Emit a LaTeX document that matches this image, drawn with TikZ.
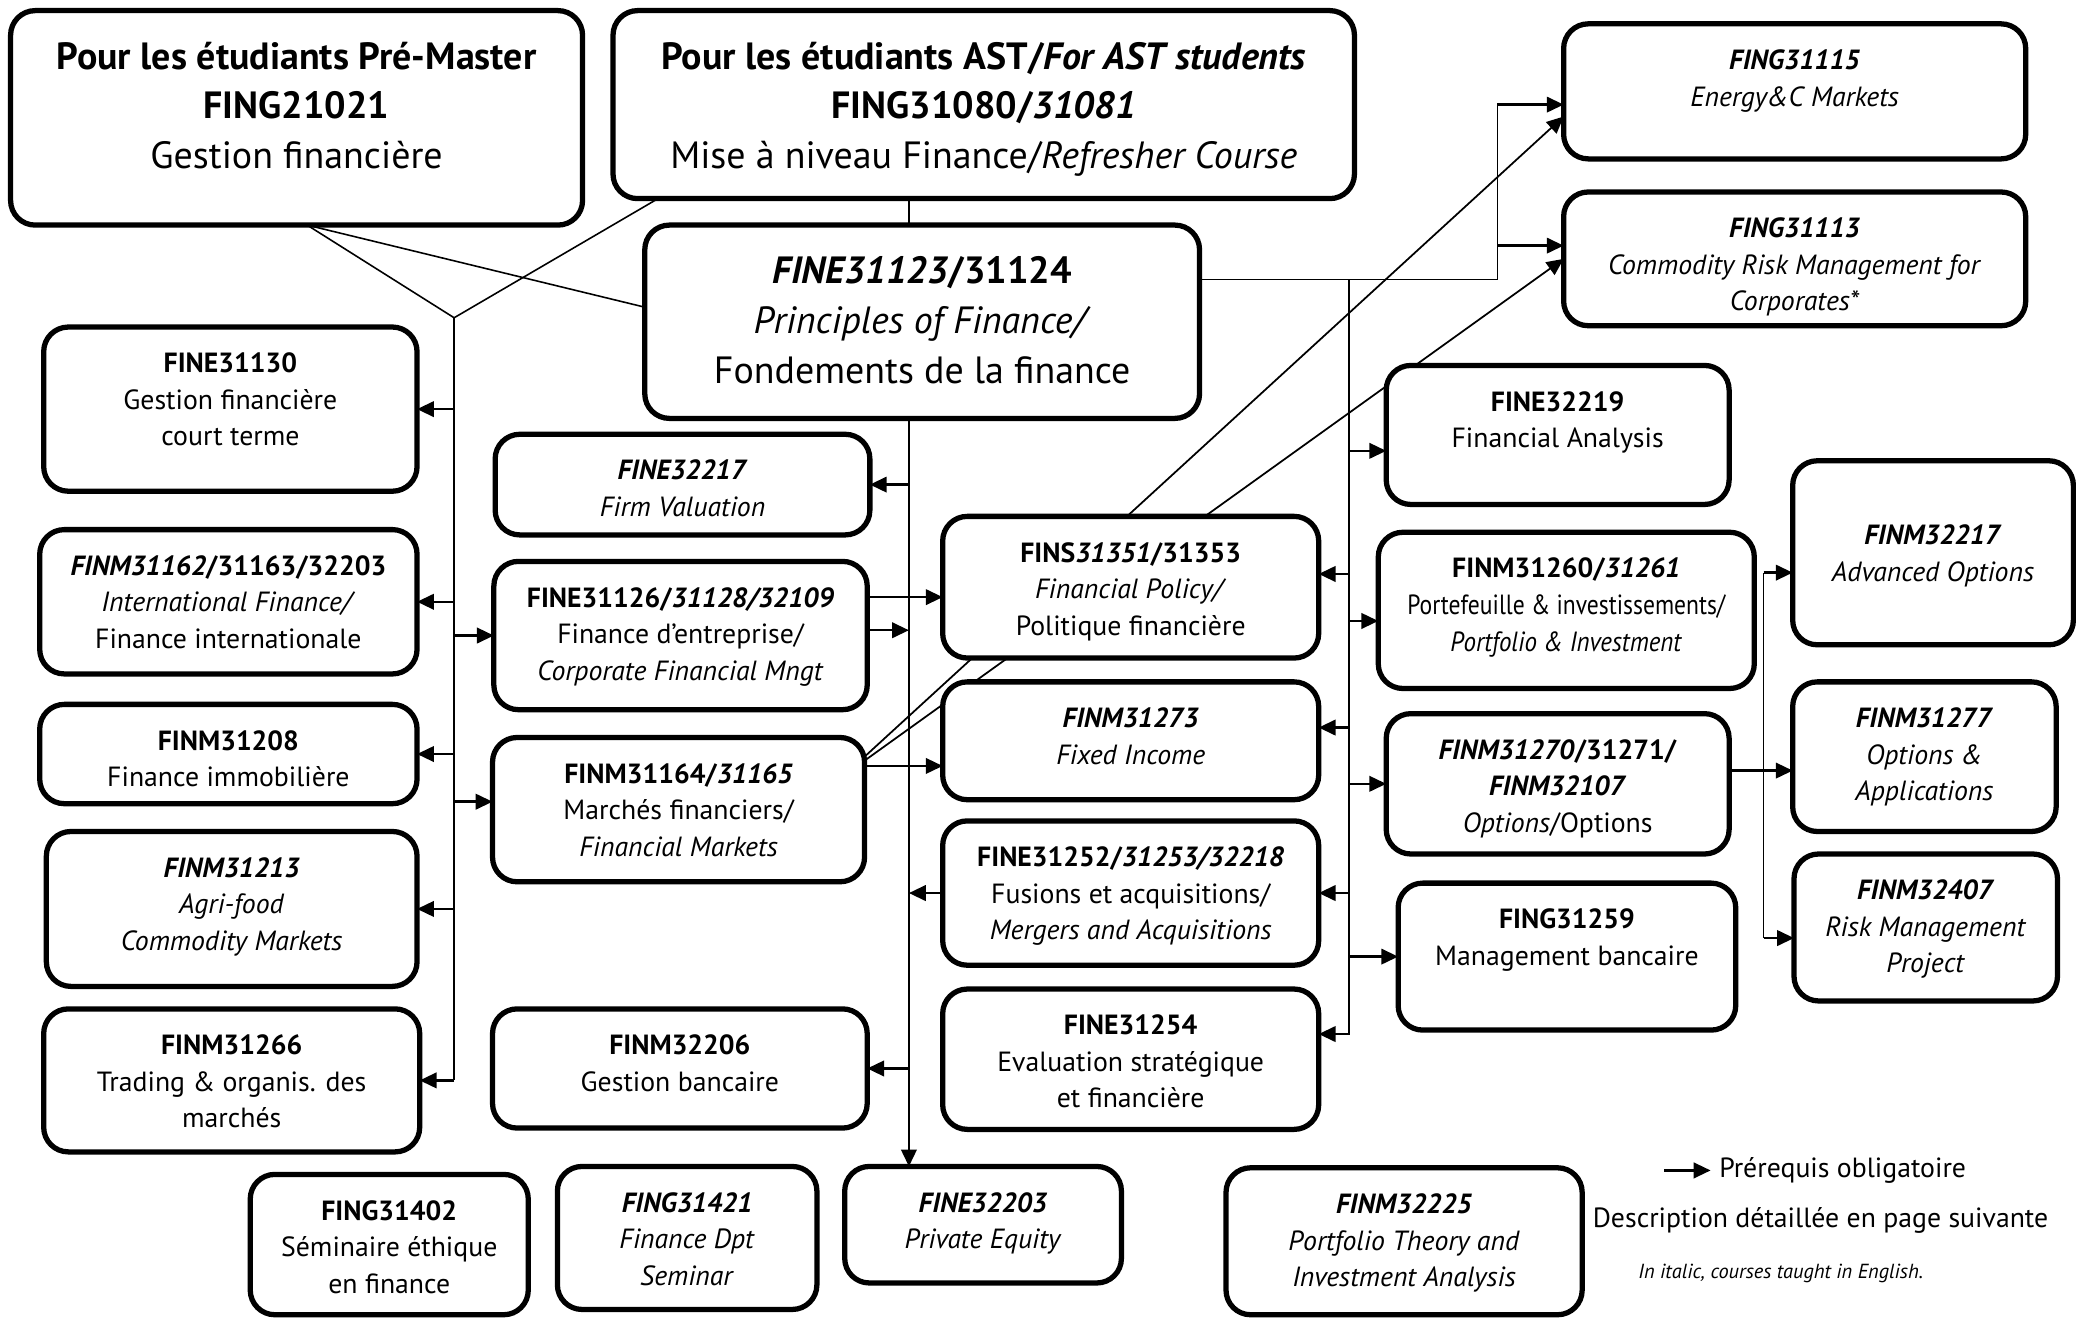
\documentclass[tikz,border=0pt]{standalone}
\usepackage{fontspec}
\setmainfont{PT Sans}
\usetikzlibrary{arrows.meta,calc,positioning}
\pgfdeclarelayer{background}
\pgfsetlayers{background,main}

\newcommand{\ulen}{0.01324cm}
\newcommand{\cbi}[1]{\textbf{\textit{#1}}}
\tikzset{
  cbox/.style={draw, line width=1.5pt, rounded corners=7pt, fill=white, inner sep=0pt, outer sep=0pt},
  ctxt/.style={align=center, inner sep=0pt, font=\fontsize{7.9}{10.4}\selectfont},
  htxt/.style={align=center, inner sep=0pt, font=\fontsize{10.8}{14.2}\selectfont},
  link/.style={line width=0.45pt},
  arr/.style={line width=0.7pt, -{Triangle[length=4.8pt,width=4.4pt]}},
}
% course box: name, x1, y1, x2, y2, text style, top offset, text
\newcommand{\course}[8]{%
  \node[cbox, minimum width={(#4-#2)*\ulen}, minimum height={(#5-#3)*\ulen}] (#1) at ({(#2+#4)/2},{(#3+#5)/2}) {};
  \node[#6, anchor=north] (#1-t) at ($(#1.north)+(0,#7)$) {#8};
}

\begin{document}
\begin{tikzpicture}[x=0.01324cm, y=-0.01324cm]
\useasboundingbox (0,0) rectangle (1568,995);

% entry courses
\course{premaster}{8}{8}{440}{170}{htxt}{23}{\textbf{Pour les étudiants Pré-Master}\\\textbf{FING21021}\\Gestion financière}
\course{ast}{463}{8}{1023}{150}{htxt}{23}{\textbf{Pour les étudiants AST/\textit{For AST students}}\\\textbf{FING31080/\textit{31081}}\\Mise à niveau Finance/\textit{Refresher Course}}
\course{principles}{487}{170}{906}{316}{htxt}{23}{\cbi{FINE31123}\textbf{/31124}\\\textit{Principles of Finance/}\\Fondements de la finance}

% left column
\course{fine31130}{33}{247}{315}{371}{ctxt}{19}{\textbf{FINE31130}\\Gestion financière\\court terme}
\course{finm31162}{30}{400}{315}{509}{ctxt}{19}{\cbi{FINM31162}\textbf{/31163/32203}\\\textit{International Finance/}\\Finance internationale}
\course{finm31208}{30}{532}{315}{607}{ctxt}{19}{\textbf{FINM31208}\\Finance immobilière}
\course{finm31213}{35}{628}{315}{745}{ctxt}{19}{\cbi{FINM31213}\\\textit{Agri-food}\\\textit{Commodity Markets}}
\course{finm31266}{33}{762}{317}{870}{ctxt}{19}{\textbf{FINM31266}\\Trading \& organis. des\\marchés}

% second column
\course{fine32217}{374}{328}{657}{404}{ctxt}{19}{\cbi{FINE32217}\\\textit{Firm Valuation}}
\course{fine31126}{373}{424}{655}{536}{ctxt}{19}{\textbf{FINE31126/\textit{31128/32109}}\\Finance d’entreprise/\\\textit{Corporate Financial Mngt}}
\course{finm31164}{372}{557}{653}{666}{ctxt}{19}{\textbf{FINM31164/\textit{31165}}\\Marchés financiers/\\\textit{Financial Markets}}
\course{finm32206}{372}{762}{655}{852}{ctxt}{19}{\textbf{FINM32206}\\Gestion bancaire}

% third column
\course{fins31351}{712}{390}{996}{497}{ctxt}{19}{\textbf{FINS\textit{31351}/31353}\\\textit{Financial Policy/}\\Politique financière}
\course{finm31273}{712}{515}{996}{604}{ctxt}{19}{\cbi{FINM31273}\\\textit{Fixed Income}}
\course{fine31252}{712}{620}{996}{729}{ctxt}{19}{\textbf{FINE31252/\textit{31253/32218}}\\Fusions et acquisitions/\\\textit{Mergers and Acquisitions}}
\course{fine31254}{712}{747}{996}{853}{ctxt}{19}{\textbf{FINE31254}\\Evaluation stratégique\\et financière}

% fourth column
\course{fing31115}{1181}{18}{1530}{120}{ctxt}{19}{\cbi{FING31115}\\\textit{Energy\&C Markets}}
\course{fing31113}{1181}{145}{1530}{246}{ctxt}{19}{\cbi{FING31113}\\\textit{Commodity Risk Management for}\\\textit{Corporates*}}
\course{fine32219}{1047}{276}{1306}{381}{ctxt}{19}{\textbf{FINE32219}\\Financial Analysis}
\course{finm31260}{1041}{402}{1325}{520}{ctxt}{19}{\textbf{FINM31260/\textit{31261}}\\\scalebox{0.85}[1]{Portefeuille \& investissements/}\\\scalebox{0.9}[1]{\textit{Portfolio \& Investment}}}
\course{finm31270}{1047}{539}{1306}{645}{ctxt}{19}{\cbi{FINM31270}\textbf{/31271/}\\\cbi{FINM32107}\\\textit{Options}/Options}
\course{fing31259}{1056}{667}{1311}{778}{ctxt}{19}{\textbf{FING31259}\\Management bancaire}

% options column
\course{finm32217}{1354}{348}{1566}{487}{ctxt}{48}{\cbi{FINM32217}\\\textit{Advanced Options}}
\course{finm31277}{1354}{515}{1553}{628}{ctxt}{19}{\cbi{FINM31277}\\\textit{Options \&}\\\textit{Applications}}
\course{finm32407}{1355}{645}{1554}{756}{ctxt}{19}{\cbi{FINM32407}\\\textit{Risk Management}\\\textit{Project}}

% bottom row
\course{fing31402}{189}{887}{399}{993}{ctxt}{19}{\textbf{FING31402}\\Séminaire éthique\\en finance}
\course{fing31421}{421}{881}{617}{989}{ctxt}{19}{\cbi{FING31421}\\\textit{Finance Dpt}\\\textit{Seminar}}
\course{fine32203}{638}{881}{847}{969}{ctxt}{19}{\cbi{FINE32203}\\\textit{Private Equity}}
\course{finm32225}{926}{882}{1195}{993}{ctxt}{19}{\cbi{FINM32225}\\\textit{Portfolio Theory and}\\\textit{Investment Analysis}}

% legend
\node[ctxt, anchor=west] (leg1) at (1298,884) {Prérequis obligatoire};
\node[ctxt] (leg2) at (1375,922) {Description détaillée en page suivante};
\node[ctxt, font=\fontsize{5.8}{7}\selectfont\itshape] (leg3) at (1345,962) {In italic, courses taught in English.};
\coordinate (legarr) at ($(leg1.west)+(-41,0)$);
\coordinate (legtip) at ($(leg1.west)+(-6,0)$);

% trunks and branch points
\coordinate (jl) at (343,240);
\coordinate (pm) at ($(premaster.south)+(8,0)$);
\coordinate (as) at ($(ast.south west)+(34,0)$);
\coordinate (cx) at ($(principles.south)+(-10,0)$);
\coordinate (pr) at ($(principles.east)+(0,-32)$);
\coordinate (rt) at ($(pr)+(113,0)$);
\coordinate (elb) at ($(pr)+(225,0)$);
\coordinate (r4) at ($(fine31254.east)+(0,-19)$);
\coordinate (e1) at ($(fine31126.east)+(0,-29)$);
\coordinate (e2) at ($(fine31126.east)+(0,-4)$);
\coordinate (m0) at ($(finm31164.west)+(0,-6)$);
\coordinate (m1) at ($(finm31164.east)+(0,-33)$);
\coordinate (m2) at ($(finm31164.east)+(0,-40)$);
\coordinate (m3) at ($(finm31164.east)+(0,-37)$);
\coordinate (g1) at ($(fing31115.west)+(0,10)$);
\coordinate (g2) at ($(fing31113.west)+(0,-10)$);
\coordinate (g3) at ($(fing31115.west)+(0,19)$);
\coordinate (a1) at ($(fine32219.west)+(0,12)$);
\coordinate (a2) at ($(fins31351.east)+(0,-10)$);
\coordinate (a3) at ($(finm31260.west)+(0,8)$);
\coordinate (a4) at ($(finm31273.east)+(0,-10)$);
\coordinate (o0) at ($(finm31270.east)+(0,-10)$);
\coordinate (ov) at ($(o0)+(26,0)$);
\coordinate (o1) at ($(finm32217.west)+(0,15)$);
\coordinate (o2) at ($(finm32407.west)+(0,8)$);

\begin{pgfonlayer}{background}
\draw[arr] (legarr) -- (legtip);

\draw[link] (pm) -- (jl);
\draw[link] (pm) -- ($(principles.west)+(0,-11)$);
\draw[link] (as) -- (jl);
\draw[link] (cx |- ast.south) -- (cx |- principles.north);

% left trunk
\draw[link] (jl) -- (jl |- finm31266.east);
\draw[arr] (jl |- finm31266.east) -- (finm31266.east);
\draw[arr] (jl |- fine31130.east) -- (fine31130.east);
\draw[arr] (jl |- finm31162.east) -- (finm31162.east);
\draw[arr] (jl |- fine31126.west) -- (fine31126.west);
\draw[arr] (jl |- finm31208.east) -- (finm31208.east);
\draw[arr] (jl |- m0) -- (m0);
\draw[arr] (jl |- finm31213.east) -- (finm31213.east);

% centre trunk
\draw[arr] (cx) -- (cx |- fine32203.north);
\draw[arr] (cx |- fine32217.east) -- (fine32217.east);
\draw[arr] (e1) -- (e1 -| fins31351.west);
\draw[arr] (e2) -- (e2 -| cx);
\draw[arr] (m1) -- (m1 -| finm31273.west);
\draw[arr, line width=0.5pt] (m2) -- (g3);
\draw[arr, line width=0.5pt] (m3) -- (fing31113.west);
\draw[arr] (fine31252.west) -- (fine31252.west -| cx);
\draw[arr] (cx |- finm32206.east) -- (finm32206.east);

% right trunk
\draw[link] (pr) -- (elb) -- (elb |- g1);
\draw[arr] (elb |- g1) -- (g1);
\draw[arr] (elb |- g2) -- (g2);
\draw[arr] (rt) -- (rt |- r4) -- (r4);
\draw[arr] (rt |- a1) -- (a1);
\draw[arr] (rt |- a2) -- (a2);
\draw[arr] (rt |- a3) -- (a3);
\draw[arr] (rt |- a4) -- (a4);
\draw[arr] (rt |- finm31270.west) -- (finm31270.west);
\draw[arr] (rt |- fine31252.east) -- (fine31252.east);
\draw[arr] (rt |- fing31259.west) -- (fing31259.west);

% options
\draw[arr] (o0) -- (o0 -| finm31277.west);
\draw[link] (ov |- o1) -- (ov |- o2);
\draw[arr] (ov |- o1) -- (o1);
\draw[arr] (ov |- o2) -- (o2);
\end{pgfonlayer}
\end{tikzpicture}
\end{document}
